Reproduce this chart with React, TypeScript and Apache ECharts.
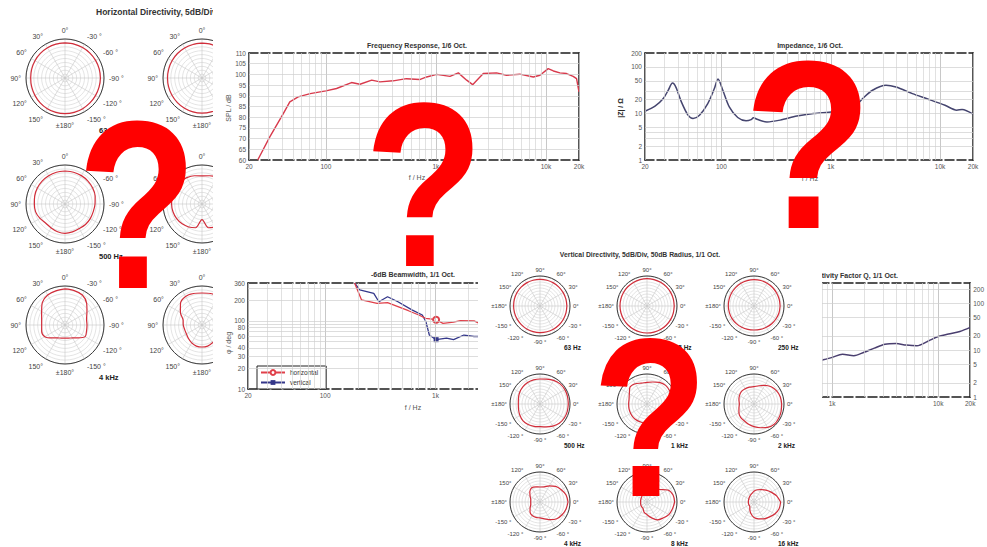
import React, { useEffect, useRef } from "react";
import * as echarts from "echarts";

const FONT = '"Liberation Sans", Arial, Helvetica, sans-serif';

// ---------------- Frequency response (SPL) ----------------
const frFreq = [24, 31, 41, 47, 56, 72, 100, 125, 171, 204, 261, 310, 409, 540, 712, 824, 1016, 1343, 1600, 1905, 2160, 2430, 2700, 3560, 4380, 5790, 7690, 8830, 10500, 11700, 13400, 15400, 17700, 19000, 20000];
const frSpl = [60, 70.9, 81.7, 87.2, 89.5, 91, 92.3, 93.4, 96.2, 95.4, 97.3, 96.5, 97, 98, 97.6, 98.8, 100, 99.1, 100.7, 97.3, 95.2, 98, 100.4, 100.7, 99.6, 100.1, 98.8, 99.6, 102.7, 101.6, 100.7, 100.4, 99.1, 98, 91.8];

// ---------------- Impedance ----------------
const zFreq = [20, 24.7, 29.4, 32.6, 35.7, 38.3, 43, 49.5, 55, 63, 75, 86, 93, 103, 118, 141, 168, 187, 196, 215, 261, 344, 490, 695, 1050, 1590, 1960, 2410, 3200, 3950, 5580, 7800, 11100, 14200, 15900, 20000];
const zOhm = [11.2, 14.4, 21, 31.6, 45, 37, 17.8, 9.2, 7.8, 9.2, 16.4, 34, 55, 31.6, 13.9, 8.2, 7.0, 7.4, 8.1, 7.4, 6.6, 7.2, 8.8, 10, 10.9, 12.8, 21, 31.6, 40.5, 37, 26.8, 20.3, 15, 11.8, 12.2, 9.7];

// ---------------- -6 dB beamwidth ----------------
const bwHFreq = [185, 214, 296, 368, 457, 569, 706, 818, 1014, 1170, 1460, 1680, 2240, 2500];
const bwH = [360, 203, 181, 185, 162, 141, 122, 109, 104, 92, 96, 101, 100, 92];
const bwVFreq = [185, 206, 276, 307, 368, 457, 612, 760, 818, 880, 1014, 1260, 1460, 1810, 2240, 2500];
const bwV = [360, 285, 254, 191, 226, 191, 145, 122, 98, 62, 53, 56, 53, 62, 59, 59];
const bwHMarkIdx = [8];
const bwVMarkIdx = [10];

// ---------------- Directivity factor Q ----------------
const qFreq = [500, 630, 800, 1000, 1250, 1600, 2000, 2500, 3150, 4000, 5000, 6300, 8000, 10000, 12500, 16000, 20000];
const qVal = [4.6, 5.3, 6.1, 7.0, 8.2, 7.6, 9.0, 11, 13.3, 13.8, 12.8, 12.4, 15.5, 19.5, 22, 25, 30.5];

// ---------------- tick labels ----------------
const freqTicks = [20, 100, 1000, 10000, 20000];
const zTicks = [1, 2, 5, 10, 20, 50, 100, 200];
const bwTicks = [10, 20, 30, 40, 60, 80, 100, 200, 360];
const bwGrid = [20, 30, 40, 50, 60, 70, 80, 90, 100, 200, 300];
const qTicks = [1, 2, 5, 10, 20, 50, 100, 200];

// ---------------- polar directivity (dB, angle steps of 15 deg) ----------------
const ANG = [0, 15, 30, 45, 60, 75, 90, 105, 120, 135, 150, 165, 180, 195, 210, 225, 240, 255, 270, 285, 300, 315, 330, 345];

const hNames = ["63 Hz", "125 Hz", "500 Hz", "1 kHz", "4 kHz", "8 kHz"];
const h63 = [-5.0, -5.1, -5.2, -5.4, -5.6, -5.8, -6.0, -5.8, -5.5, -5.0, -4.6, -4.3, -4.2, -4.3, -4.6, -4.8, -4.9, -4.8, -4.6, -4.6, -4.7, -4.8, -4.9, -5.0];
const h125 = [-5.4, -5.5, -5.5, -5.6, -5.7, -5.8, -5.8, -5.7, -5.6, -5.4, -5.2, -5.0, -5.0, -5.0, -5.2, -5.4, -5.5, -5.5, -5.6, -5.6, -5.6, -5.5, -5.5, -5.4];
const h500 = [-7.7, -7.8, -8.1, -8.5, -9.0, -9.8, -10.7, -11.0, -13.0, -15.2, -14.5, -13.2, -12.4, -13.0, -13.7, -12.9, -12.6, -12.5, -11.5, -10.0, -9.0, -8.4, -8.0, -7.8];
const h1k = [-14, -12.5, -11, -10, -10, -10.3, -11, -11.5, -12.5, -14, -16, -18.5, -30, -18.5, -16, -14, -12.5, -11.5, -11, -10.3, -10, -10, -11, -12.5];
const h4k = [-3.8, -4.7, -5.6, -9.0, -15.4, -19.0, -20.1, -19.0, -20.1, -26.5, -30.8, -32.7, -33.3, -32.7, -30.8, -26.5, -20.1, -21.4, -21.8, -21.4, -17.5, -10.7, -5.6, -4.3];
const h8k = [-9, -8.2, -7.7, -11, -18, -24.9, -26, -27, -27, -25.5, -23.5, -22, -21.8, -22, -23.5, -25.5, -27, -27, -26, -24.9, -18, -11, -7.7, -8.2];

const vNames = ["63 Hz", "125 Hz", "250 Hz", "500 Hz", "1 kHz", "2 kHz", "4 kHz", "8 kHz", "16 kHz"];
const v63 = [-5.2, -5.3, -5.4, -5.5, -5.5, -5.6, -5.6, -5.6, -5.5, -5.5, -5.6, -5.8, -6.0, -6.1, -6.1, -6.0, -5.8, -5.7, -5.6, -5.5, -5.4, -5.3, -5.2, -5.2];
const v125 = [-4.6, -4.6, -4.5, -4.5, -4.4, -4.4, -4.4, -4.5, -4.6, -4.7, -4.8, -4.9, -5.0, -5.1, -5.2, -5.2, -5.2, -5.1, -5.0, -4.9, -4.8, -4.7, -4.6, -4.6];
const v250 = [-6.5, -6.5, -6.5, -6.3, -6.2, -6.0, -6.0, -6.1, -6.2, -6.5, -6.8, -7.0, -7.2, -7.5, -7.8, -8.4, -9.0, -9.6, -10.0, -9.6, -9.0, -8.2, -7.5, -6.8];
const v500 = [-2.8, -2.5, -2.2, -2.5, -4.5, -7, -8.3, -8.5, -8.8, -9.5, -11, -12.8, -13.9, -13, -11.5, -10, -10.5, -11.5, -12.2, -10.5, -7.5, -4.5, -3.3, -2.9];
const v1k = [-6.5, -6.5, -6.3, -6.1, -8.5, -12, -13.9, -14, -11, -10, -16, -19, -19.4, -19, -18.5, -18, -18, -18, -17.8, -14, -10, -7.2, -7, -6.8];
const v2k = [-3.9, -4.5, -6.5, -9.5, -14, -18.5, -21.1, -21, -20.6, -20.5, -22, -24, -25.6, -24, -21, -18.5, -17.5, -15, -12.2, -9, -5, -2.2, -2.5, -3.2];
const v4k = [-3.3, -5, -9, -13, -19, -24, -25, -24, -22.5, -26, -31, -34, -34.5, -34, -31, -26.5, -24, -23.5, -23.5, -21, -16, -10.5, -7.5, -5];
const v8k = [-3.9, -5, -10, -20.6, -25, -28, -31, -34, -36, -37.5, -38.5, -39, -39.4, -39, -38.5, -38, -37, -32, -28.9, -23, -15.5, -12.2, -8, -6];
const v16k = [-5.6, -11, -17, -22, -26, -28.9, -32, -35.5, -37.5, -39, -40, -40.5, -40.6, -40.5, -40.2, -40, -36, -30, -24, -21, -17.5, -14.4, -10, -6.7];

// ---------------- helpers ----------------
const fmtHz = (v: number) => (v >= 1000 ? `${v / 1000}k` : `${v}`);
const angleFmt = (v: number) =>
  v === 0 ? "0°" : v === 360 ? "" : v === 180 ? "±180°" : v < 180 ? `${v}°` : `${v - 360} °`;

function logGrid(min: number, max: number) {
  const out: number[] = [];
  for (let d = 1; d <= 100000; d *= 10)
    for (let k = 1; k <= 9; k++) {
      const v = k * d;
      if (v >= min && v <= max) out.push(v);
    }
  return out;
}

const LABEL = { fontSize: 6.5, color: "#555", fontFamily: FONT };
const frameX = { show: true, onZero: false, lineStyle: { color: "#1c1c1c", width: 1.5, type: [9, 3] } };
const frameY = { show: true, onZero: false, lineStyle: { color: "#1c1c1c", width: 1.5 } };

function text(x: number, y: number, s: string, opts: any = {}) {
  return {
    type: "text",
    x,
    y,
    rotation: opts.rotation || 0,
    z: 50,
    style: {
      text: s,
      font: `${opts.bold ? "bold " : ""}${opts.size || 7}px ${FONT}`,
      fill: opts.color || "#333",
      align: opts.align || "center",
      verticalAlign: "middle",
    },
  };
}

function cartesian(cfg: any) {
  const xGrid = logGrid(20, 20000);
  const gridLines = {
    type: "line",
    data: [],
    silent: true,
    z: 1,
    markLine: {
      silent: true,
      symbol: ["none", "none"],
      label: { show: false },
      emphasis: { disabled: true },
      data: [
        ...xGrid.map((v) => ({
          xAxis: v,
          lineStyle: { color: [100, 1000, 10000].includes(v) ? "#b0b0b0" : "#d4d4d4", width: 0.7, type: "solid" },
        })),
        ...cfg.yGrid.map((v: number) => ({ yAxis: v, lineStyle: { color: "#cfcfcf", width: 0.7, type: "solid" } })),
      ],
    },
  };
  const yMain: any = {
    type: cfg.yType,
    min: cfg.yMin,
    max: cfg.yMax,
    position: cfg.yPos || "left",
    axisLine: frameY,
    axisTick: { show: false },
    splitLine: { show: false },
    axisLabel: { ...LABEL, margin: 3 },
  };
  if (cfg.yType === "log") yMain.logBase = 10;
  if (cfg.yInterval) yMain.interval = cfg.yInterval;
  if (cfg.yLabels) yMain.axisLabel.customValues = cfg.yLabels;
  return {
    animation: false,
    grid: { ...cfg.grid, containLabel: false },
    xAxis: [
      {
        type: "log",
        logBase: 10,
        min: 20,
        max: 20000,
        axisLine: frameX,
        axisTick: { show: false },
        splitLine: { show: false },
        axisLabel: { ...LABEL, margin: 3, customValues: freqTicks, formatter: fmtHz },
      },
      { type: "value", position: "top", min: 0, max: 1, axisLine: frameX, axisTick: { show: false }, axisLabel: { show: false }, splitLine: { show: false } },
    ],
    yAxis: [
      yMain,
      {
        type: "value",
        position: cfg.yPos === "right" ? "left" : "right",
        min: 0,
        max: 1,
        axisLine: frameY,
        axisTick: { show: false },
        axisLabel: { show: false },
        splitLine: { show: false },
      },
    ],
    legend: cfg.legend || { show: false },
    series: [gridLines, ...cfg.series],
    graphic: cfg.graphic,
  };
}

function polarOption(centers: number[][], R: number, startAngle: number, curves: number[][], names: string[], nm: any, extra: any[]) {
  return {
    animation: false,
    polar: centers.map((c) => ({ center: c, radius: R })),
    angleAxis: centers.map((_, i) => ({
      polarIndex: i,
      type: "value",
      min: 0,
      max: 360,
      interval: 30,
      startAngle,
      clockwise: false,
      axisLine: { lineStyle: { color: "#3a3a3a", width: 1 } },
      axisTick: { show: false },
      axisLabel: { fontSize: nm.labelSize, color: "#444", margin: nm.margin, fontFamily: FONT, formatter: angleFmt },
      splitLine: { show: true, lineStyle: { color: "#c6c6c6", width: 0.6 } },
    })),
    radiusAxis: centers.map((_, i) => ({
      polarIndex: i,
      type: "value",
      min: -50,
      max: 0,
      interval: 5,
      axisLine: { show: false },
      axisTick: { show: false },
      axisLabel: { show: false },
      splitLine: { show: true, lineStyle: { color: "#d2d2d2", width: 0.6 } },
    })),
    series: curves.map((vals, i) => ({
      type: "line",
      coordinateSystem: "polar",
      polarIndex: i,
      symbol: "none",
      smooth: 0.3,
      lineStyle: { color: "#d22d3a", width: 1.2 },
      data: [...ANG.map((a, k) => [vals[k], a]), [vals[0], 360]],
    })),
    graphic: [
      ...names.map((n, i) => text(centers[i][0] + nm.dx, centers[i][1] + nm.dy, n, { bold: true, size: nm.size, align: "left", color: "#222" })),
      ...extra,
    ],
  };
}

// ---------------- options ----------------
function hOption() {
  const centers = [[65, 78], [202, 78], [65, 204], [202, 204], [65, 325], [202, 325]];
  return polarOption(centers, 39, 90, [h63, h125, h500, h1k, h4k, h8k], hNames, { dx: 34, dy: 52, size: 7.5, labelSize: 7, margin: 5 }, [
    text(96, 12, "Horizontal Directivity, 5dB/Div, 50dB Radius, 1/1 Oct.", { bold: true, size: 8.5, align: "left", color: "#333" }),
  ]);
}

function vOption() {
  const xs = [62, 169, 276];
  const ys = [61, 159, 257];
  const centers: number[][] = [];
  ys.forEach((y) => xs.forEach((x) => centers.push([x, y])));
  return polarOption(centers, 30, 0, [v63, v125, v250, v500, v1k, v2k, v4k, v8k, v16k], vNames, { dx: 24, dy: 41, size: 6.5, labelSize: 6, margin: 3 }, [
    text(162, 9, "Vertical Directivity, 5dB/Div, 50dB Radius, 1/1 Oct.", { bold: true, size: 6.8, color: "#333" }),
  ]);
}

function frOption() {
  return cartesian({
    grid: { left: 36, top: 53, width: 330, height: 107 },
    yType: "value",
    yMin: 60,
    yMax: 110,
    yInterval: 5,
    yGrid: [65, 70, 75, 80, 85, 90, 95, 100, 105],
    series: [
      { type: "line", z: 3, symbol: "none", data: frFreq.map((f, i) => [f, frSpl[i]]), lineStyle: { color: "#d83a4c", width: 1.4 } },
    ],
    graphic: [
      text(204, 45, "Frequency Response, 1/6 Oct.", { bold: true, size: 7 }),
      text(15, 108, "SPL / dB", { size: 7, rotation: Math.PI / 2, color: "#555" }),
      text(204, 177, "f / Hz", { size: 7, color: "#555" }),
    ],
  });
}

function zOption() {
  return cartesian({
    grid: { left: 47, top: 53, width: 328, height: 107 },
    yType: "log",
    yMin: 1,
    yMax: 200,
    yLabels: zTicks,
    yGrid: [2, 3, 4, 5, 10, 20, 30, 50, 100],
    series: [
      { type: "line", z: 3, symbol: "none", smooth: 0.3, data: zFreq.map((f, i) => [f, zOhm[i]]), lineStyle: { color: "#45456f", width: 1.5 } },
    ],
    graphic: [
      text(212, 45, "Impedance, 1/6 Oct.", { bold: true, size: 7 }),
      text(22, 108, "|Z| / Ω", { size: 7, bold: true, rotation: Math.PI / 2, color: "#222" }),
      text(212, 178, "f / Hz", { size: 7, color: "#555" }),
    ],
  });
}

function bwOption() {
  const mk = (fs: number[], vs: number[], idx: number[], sym: string, size: number) =>
    fs.map((f, i) => (idx.includes(i) ? { value: [f, vs[i]], symbol: sym, symbolSize: size } : { value: [f, vs[i]], symbol: "none" }));
  return cartesian({
    grid: { left: 35, top: 38, width: 331, height: 106 },
    yType: "log",
    yMin: 10,
    yMax: 360,
    yLabels: bwTicks,
    yGrid: bwGrid,
    legend: {
      show: true,
      left: 44,
      top: 121,
      orient: "vertical",
      data: ["horizontal", "vertical"],
      itemWidth: 24,
      itemHeight: 6,
      itemGap: 3,
      padding: [3, 8, 3, 3],
      borderColor: "#222",
      borderWidth: 1,
      backgroundColor: "#fff",
      textStyle: { fontSize: 6.5, color: "#333", fontFamily: FONT },
    },
    series: [
      {
        name: "horizontal",
        type: "line",
        z: 4,
        symbol: "emptyCircle",
        symbolSize: 6,
        showSymbol: true,
        itemStyle: { color: "#e0404a", borderWidth: 1.2 },
        data: mk(bwHFreq, bwH, bwHMarkIdx, "emptyCircle", 6),
        lineStyle: { color: "#e0404a", width: 1.3 },
      },
      {
        name: "vertical",
        type: "line",
        z: 3,
        symbol: "rect",
        symbolSize: 5,
        showSymbol: true,
        itemStyle: { color: "#34378a" },
        data: mk(bwVFreq, bwV, bwVMarkIdx, "rect", 5),
        lineStyle: { color: "#34378a", width: 1.3 },
      },
    ],
    graphic: [
      text(200, 29, "-6dB Beamwidth, 1/1 Oct.", { bold: true, size: 7 }),
      text(15, 98, "φ / deg", { size: 7, rotation: Math.PI / 2, color: "#555" }),
      text(200, 162, "f / Hz", { size: 7, color: "#555" }),
    ],
  });
}

function qOption() {
  return cartesian({
    grid: { left: 52, top: 38, width: 321, height: 114 },
    yType: "log",
    yMin: 1,
    yMax: 270,
    yPos: "right",
    yLabels: qTicks,
    yGrid: [2, 5, 10, 20, 50, 100, 200],
    series: [
      { type: "line", z: 3, symbol: "none", smooth: 0.3, data: qFreq.map((f, i) => [f, qVal[i]]), lineStyle: { color: "#4a3f6f", width: 1.5 } },
    ],
    graphic: [{ ...text(298, 30, "Directivity Factor Q, 1/1 Oct.", { bold: true, size: 7, align: "right" }) }],
  });
}

function qmOption() {
  const qm = (x: number, y: number, size: number, sx: number) => ({
    type: "text",
    x,
    y,
    scaleX: sx,
    z: 100,
    style: { text: "?", font: `bold ${size}px "Liberation Sans", Arial, sans-serif`, fill: "#ff0000", align: "center", verticalAlign: "middle" },
  });
  return {
    animation: false,
    graphic: [qm(137, 205, 240, 0.82), qm(424, 185, 233, 0.84), qm(808, 145, 240, 0.88), qm(650, 417, 226, 0.84)],
  };
}

const box = (left: number, top: number, w: number, h: number, z = 1): React.CSSProperties => ({
  position: "absolute",
  left,
  top,
  width: w,
  height: h,
  overflow: "hidden",
  background: "#fff",
  zIndex: z,
});

export default function App() {
  const hRef = useRef<HTMLDivElement>(null);
  const frRef = useRef<HTMLDivElement>(null);
  const zRef = useRef<HTMLDivElement>(null);
  const bwRef = useRef<HTMLDivElement>(null);
  const qRef = useRef<HTMLDivElement>(null);
  const vRef = useRef<HTMLDivElement>(null);
  const qmRef = useRef<HTMLDivElement>(null);

  useEffect(() => {
    const list: [HTMLDivElement | null, any][] = [
      [hRef.current, hOption()],
      [frRef.current, frOption()],
      [zRef.current, zOption()],
      [bwRef.current, bwOption()],
      [qRef.current, qOption()],
      [vRef.current, vOption()],
      [qmRef.current, qmOption()],
    ];
    const charts = list
      .filter(([el]) => !!el)
      .map(([el, opt]) => {
        const c = echarts.init(el as HTMLDivElement, undefined, { renderer: "svg" });
        c.setOption(opt);
        return c;
      });
    return () => charts.forEach((c) => c.dispose());
  }, []);

  return (
    <div style={{ position: "absolute", left: 0, top: 0, width: 987, height: 547, background: "#fff", overflow: "hidden" }}>
      <div style={box(0, 0, 213, 400)}>
        <div ref={hRef} style={{ position: "absolute", left: 0, top: 0, width: 213, height: 400 }} />
      </div>
      <div style={box(213, 0, 385, 245)}>
        <div ref={frRef} style={{ position: "absolute", left: 0, top: 0, width: 385, height: 245 }} />
      </div>
      <div style={box(598, 0, 389, 245)}>
        <div ref={zRef} style={{ position: "absolute", left: 0, top: 0, width: 389, height: 245 }} />
      </div>
      <div style={box(213, 245, 265, 302)}>
        <div ref={bwRef} style={{ position: "absolute", left: 0, top: 0, width: 400, height: 302 }} />
      </div>
      <div style={box(822, 245, 165, 302)}>
        <div ref={qRef} style={{ position: "absolute", left: -222, top: 0, width: 387, height: 302 }} />
      </div>
      <div style={box(478, 245, 344, 302)}>
        <div ref={vRef} style={{ position: "absolute", left: 0, top: 0, width: 344, height: 302 }} />
      </div>
      <div ref={qmRef} style={{ position: "absolute", left: 0, top: 0, width: 987, height: 547, zIndex: 10, pointerEvents: "none" }} />
    </div>
  );
}
